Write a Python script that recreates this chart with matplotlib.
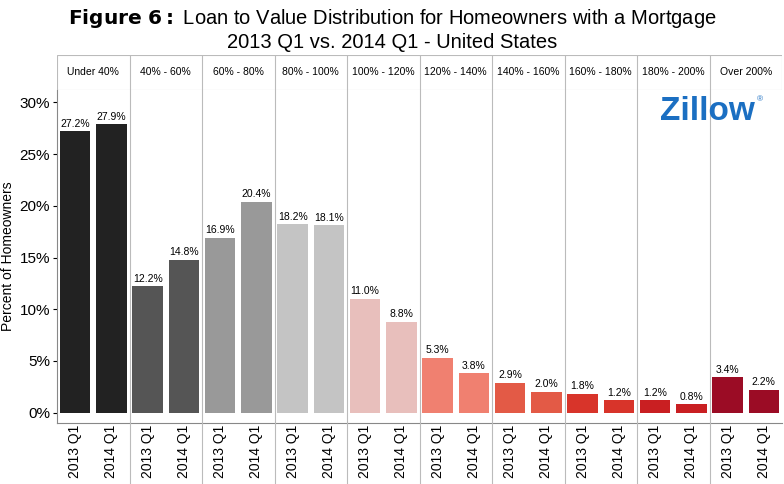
import matplotlib.pyplot as plt
from matplotlib.patches import Rectangle

plt.rcParams["font.family"] = "Liberation Sans"

categories = ["Under 40%", "40% - 60%", "60% - 80%", "80% - 100%", "100% - 120%",
              "120% - 140%", "140% - 160%", "160% - 180%", "180% - 200%", "Over 200%"]
v2013 = [27.2, 12.2, 16.9, 18.2, 11.0, 5.3, 2.9, 1.8, 1.2, 3.4]
v2014 = [27.9, 14.8, 20.4, 18.1, 8.8, 3.8, 2.0, 1.2, 0.8, 2.2]
periods = ["2013 Q1", "2014 Q1"]
colors = ["#222222", "#555555", "#999999", "#c4c4c4", "#e8bfbc",
          "#f08070", "#e35a46", "#d8342a", "#c91f22", "#9b0c25"]

fig = plt.figure(figsize=(7.84, 4.84), dpi=100)
W, H = 784, 484
x0, x1, y0, y1 = 57, 782, 423, 90
ax = fig.add_axes([x0 / W, 1 - y0 / H, (x1 - x0) / W, (y0 - y1) / H])

n = len(categories)
for i in range(n):
    for j, vals in enumerate([v2013, v2014]):
        x = i + 0.25 + 0.5 * j
        ax.bar(x, vals[i], width=0.42, color=colors[i])
        ax.text(x, vals[i] + 0.25, f"{vals[i]:.1f}%", ha="center", va="bottom", fontsize=7.5)
    if i > 0:
        ax.axvline(i, color="#bbbbbb", lw=0.8)

ax.set_xlim(0, n)
ax.set_ylim(-1.0, 31.2)
ax.set_yticks(range(0, 31, 5))
ax.set_yticklabels([f"{t}%" for t in range(0, 31, 5)], fontsize=11)
ax.tick_params(axis="y", length=3, pad=2)
ax.set_xticks([])
ax.set_ylabel("Percent of Homeowners", fontsize=10, labelpad=3)
for s in ["top", "right"]:
    ax.spines[s].set_visible(False)
ax.spines["left"].set_color("#888888")
ax.spines["bottom"].set_color("#888888")

# header row
hax = fig.add_axes([x0 / W, 1 - y1 / H, (x1 - x0) / W, (y1 - 55) / H])
hax.set_xlim(0, n)
hax.set_ylim(0, 1)
hax.axis("off")
hax.add_patch(Rectangle((0, 0), n, 1, fill=False, ec="#bbbbbb", lw=0.8))
for i, c in enumerate(categories):
    hax.text(i + 0.5, 0.5, c, ha="center", va="center", fontsize=7.5)
    if i > 0:
        hax.axvline(i, color="#bbbbbb", lw=0.8)

# bottom period labels
bax = fig.add_axes([x0 / W, 0, (x1 - x0) / W, (H - y0) / H])
bax.set_xlim(0, n)
bax.set_ylim(0, 1)
bax.axis("off")
for i in range(n):
    for j, p in enumerate(periods):
        bax.text(i + 0.25 + 0.5 * j, 0.97, p, rotation=90, ha="center", va="top", fontsize=10)
    if i > 0:
        bax.axvline(i, color="#bbbbbb", lw=0.8)

fig.text(0.5, 1 - 18 / H, r"$\bf{Figure\ 6:}$ Loan to Value Distribution for Homeowners with a Mortgage",
         ha="center", va="center", fontsize=14.5)
fig.text(0.5, 1 - 42 / H, "2013 Q1 vs. 2014 Q1 - United States", ha="center", va="center", fontsize=14.5)
fig.text(755 / W, 1 - 112 / H, "Zillow", ha="right", va="center", fontsize=24,
         fontweight="bold", color="#1b6fc2")
fig.text(757 / W, 1 - 100 / H, "®", ha="left", va="center", fontsize=6, color="#1b6fc2")

fig.savefig("out.png", dpi=100)
